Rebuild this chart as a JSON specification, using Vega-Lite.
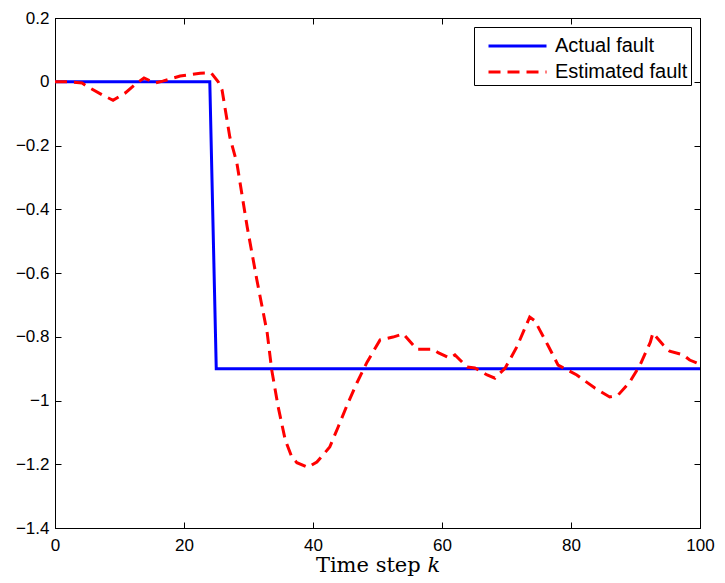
{
  "$schema": "https://vega.github.io/schema/vega-lite/v6.json",
  "width": 645,
  "height": 510,
  "padding": {"left": 55, "top": 18, "right": 25, "bottom": 55},
  "autosize": {"type": "none"},
  "background": "white",
  "config": {
    "view": {"stroke": "black", "strokeWidth": 1},
    "font": "Liberation Sans",
    "axis": {
      "grid": false,
      "domainColor": "black",
      "tickColor": "black",
      "labelColor": "black",
      "labelFontSize": 17,
      "labelFont": "Liberation Sans",
      "tickSize": -6,
      "domainWidth": 1,
      "tickWidth": 1,
      "labelFlush": false
    }
  },
  "data": {
    "values": [
      {"k": 0, "value": 0, "series": "Actual fault"},
      {"k": 24, "value": 0, "series": "Actual fault"},
      {"k": 25, "value": -0.9, "series": "Actual fault"},
      {"k": 100, "value": -0.9, "series": "Actual fault"},
      {"k": 0, "value": 0, "series": "Estimated fault"},
      {"k": 2, "value": 0, "series": "Estimated fault"},
      {"k": 4.2, "value": -0.004, "series": "Estimated fault"},
      {"k": 5.1, "value": -0.016, "series": "Estimated fault"},
      {"k": 7.4, "value": -0.042, "series": "Estimated fault"},
      {"k": 9, "value": -0.058, "series": "Estimated fault"},
      {"k": 10.9, "value": -0.035, "series": "Estimated fault"},
      {"k": 12.7, "value": -0.004, "series": "Estimated fault"},
      {"k": 13.8, "value": 0.012, "series": "Estimated fault"},
      {"k": 15.5, "value": -0.004, "series": "Estimated fault"},
      {"k": 16.7, "value": 0.002, "series": "Estimated fault"},
      {"k": 19.4, "value": 0.018, "series": "Estimated fault"},
      {"k": 20.5, "value": 0.021, "series": "Estimated fault"},
      {"k": 22.5, "value": 0.027, "series": "Estimated fault"},
      {"k": 24.2, "value": 0.028, "series": "Estimated fault"},
      {"k": 25.3, "value": 0.0, "series": "Estimated fault"},
      {"k": 25.9, "value": -0.026, "series": "Estimated fault"},
      {"k": 27.1, "value": -0.173, "series": "Estimated fault"},
      {"k": 28.2, "value": -0.255, "series": "Estimated fault"},
      {"k": 29.8, "value": -0.456, "series": "Estimated fault"},
      {"k": 31.3, "value": -0.622, "series": "Estimated fault"},
      {"k": 32.9, "value": -0.788, "series": "Estimated fault"},
      {"k": 33.6, "value": -0.904, "series": "Estimated fault"},
      {"k": 34.6, "value": -1.02, "series": "Estimated fault"},
      {"k": 35.7, "value": -1.124, "series": "Estimated fault"},
      {"k": 36.7, "value": -1.177, "series": "Estimated fault"},
      {"k": 37.5, "value": -1.195, "series": "Estimated fault"},
      {"k": 39.2, "value": -1.21, "series": "Estimated fault"},
      {"k": 40.6, "value": -1.193, "series": "Estimated fault"},
      {"k": 42.6, "value": -1.146, "series": "Estimated fault"},
      {"k": 43.9, "value": -1.083, "series": "Estimated fault"},
      {"k": 45.3, "value": -1.014, "series": "Estimated fault"},
      {"k": 46.8, "value": -0.945, "series": "Estimated fault"},
      {"k": 48.4, "value": -0.879, "series": "Estimated fault"},
      {"k": 50.4, "value": -0.81, "series": "Estimated fault"},
      {"k": 52.4, "value": -0.801, "series": "Estimated fault"},
      {"k": 54.0, "value": -0.791, "series": "Estimated fault"},
      {"k": 56.1, "value": -0.839, "series": "Estimated fault"},
      {"k": 58.6, "value": -0.839, "series": "Estimated fault"},
      {"k": 59.4, "value": -0.85, "series": "Estimated fault"},
      {"k": 61.2, "value": -0.867, "series": "Estimated fault"},
      {"k": 62.0, "value": -0.857, "series": "Estimated fault"},
      {"k": 63.9, "value": -0.895, "series": "Estimated fault"},
      {"k": 65.1, "value": -0.898, "series": "Estimated fault"},
      {"k": 67.0, "value": -0.92, "series": "Estimated fault"},
      {"k": 68.2, "value": -0.93, "series": "Estimated fault"},
      {"k": 69.8, "value": -0.898, "series": "Estimated fault"},
      {"k": 71.6, "value": -0.832, "series": "Estimated fault"},
      {"k": 73.2, "value": -0.757, "series": "Estimated fault"},
      {"k": 73.6, "value": -0.738, "series": "Estimated fault"},
      {"k": 74.4, "value": -0.75, "series": "Estimated fault"},
      {"k": 76.4, "value": -0.826, "series": "Estimated fault"},
      {"k": 78.0, "value": -0.889, "series": "Estimated fault"},
      {"k": 80.9, "value": -0.92, "series": "Estimated fault"},
      {"k": 83.7, "value": -0.961, "series": "Estimated fault"},
      {"k": 86.0, "value": -0.989, "series": "Estimated fault"},
      {"k": 87.3, "value": -0.983, "series": "Estimated fault"},
      {"k": 89.1, "value": -0.942, "series": "Estimated fault"},
      {"k": 90.7, "value": -0.889, "series": "Estimated fault"},
      {"k": 92.3, "value": -0.817, "series": "Estimated fault"},
      {"k": 92.7, "value": -0.788, "series": "Estimated fault"},
      {"k": 94.3, "value": -0.826, "series": "Estimated fault"},
      {"k": 95.3, "value": -0.845, "series": "Estimated fault"},
      {"k": 97.4, "value": -0.857, "series": "Estimated fault"},
      {"k": 98.4, "value": -0.873, "series": "Estimated fault"},
      {"k": 100, "value": -0.886, "series": "Estimated fault"}
    ]
  },
  "layer": [
    {
      "mark": {"type": "line", "strokeWidth": 3, "clip": true},
      "encoding": {
        "x": {
          "field": "k", "type": "quantitative",
          "scale": {"domain": [0, 100], "nice": false, "zero": false},
          "axis": {
            "values": [0, 20, 40, 60, 80, 100],
            "labelPadding": 15,
            "title": "Time step 𝑘",
            "titleFont": "DejaVu Serif",
            "titleFontSize": 21,
            "titleFontWeight": "normal",
            "titleColor": "black",
            "titlePadding": 1
          }
        },
        "y": {
          "field": "value", "type": "quantitative",
          "scale": {"domain": [-1.4, 0.2], "nice": false, "zero": false},
          "axis": {
            "values": [-1.4, -1.2, -1, -0.8, -0.6, -0.4, -0.2, 0, 0.2],
            "format": ".1~f",
            "labelPadding": 12,
            "title": null
          }
        },
        "color": {
          "field": "series", "type": "nominal",
          "scale": {"domain": ["Actual fault", "Estimated fault"], "range": ["#0000ff", "#ff0000"]},
          "legend": {
            "title": null,
            "orient": "top-right",
            "offset": 9,
            "symbolType": "M-0.31,0H3.69",
            "symbolSize": 841,
            "symbolStrokeWidth": 3,
            "labelFontSize": 20,
            "labelFont": "Liberation Sans",
            "labelColor": "black",
            "strokeColor": "black",
            "fillColor": "white",
            "padding": 3,
            "rowPadding": -6,
            "labelOffset": 46
          }
        },
        "strokeDash": {
          "field": "series", "type": "nominal",
          "scale": {"domain": ["Actual fault", "Estimated fault"], "range": [[1, 0], [12, 7]]},
          "legend": null
        }
      }
    },
    {
      "mark": {"type": "point", "opacity": 0},
      "encoding": {
        "x": {
          "field": "k", "type": "quantitative",
          "axis": {"orient": "top", "values": [0, 20, 40, 60, 80, 100], "labels": false, "title": null}
        },
        "y": {
          "field": "value", "type": "quantitative",
          "axis": {"orient": "right", "values": [-1.4, -1.2, -1, -0.8, -0.6, -0.4, -0.2, 0, 0.2], "labels": false, "title": null}
        }
      }
    }
  ],
  "resolve": {"axis": {"x": "independent", "y": "independent"}}
}
